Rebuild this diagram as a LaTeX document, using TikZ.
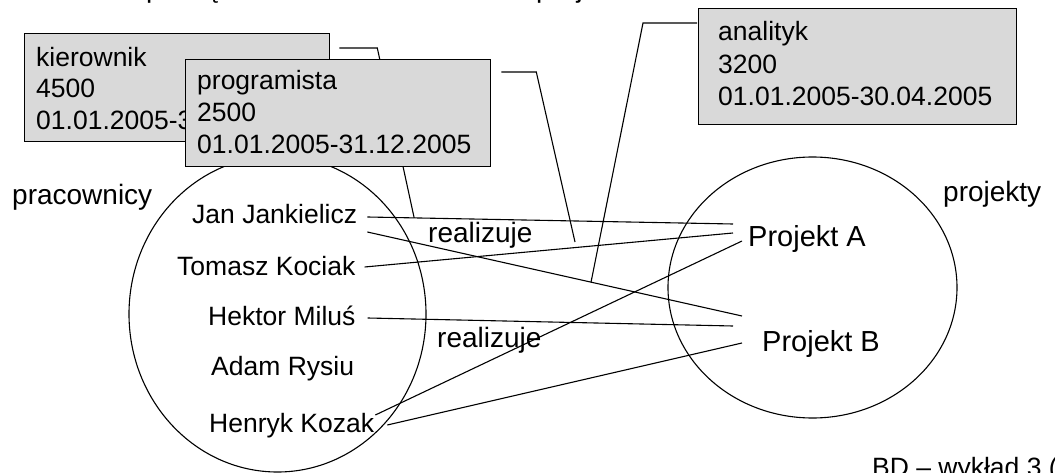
\documentclass[tikz,border=0pt]{standalone}
\usepackage{fontspec}
\setmainfont{Liberation Sans}
\usetikzlibrary{calc,shapes.geometric}
\definecolor{boxgray}{RGB}{217,217,217}
\tikzset{
  infobox/.style={draw=black, line width=1.3pt, fill=boxgray, anchor=north west, inner sep=0pt, rectangle},
  txt/.style={anchor=base west, inner sep=0pt, font=\fontsize{26.5}{31}\selectfont},
  big/.style={anchor=base west, inner sep=0pt, font=\fontsize{29}{34}\selectfont},
  lbl/.style={anchor=base west, inner sep=0pt, font=\fontsize{28}{33}\selectfont},
  conn/.style={draw=black, line width=1.1pt},
  setshape/.style={draw=black, line width=1.1pt, ellipse, inner sep=0pt},
}
\begin{document}
\begin{tikzpicture}[x=1pt,y=-1pt]
\useasboundingbox (0,0) rectangle (1055,473);
% cut-off title (only descenders visible)
\node[lbl] (titleL) at (146,-2) {pamięci};
\node[lbl] (titleR) at (536,-2) {projektami};
% sets
\node[setshape, minimum width=297pt, minimum height=316pt] (prac) at (277.5,314) {};
\node[setshape, minimum width=289pt, minimum height=261pt] (proj) at (812.5,287.5) {};
\node[lbl] (pracLbl) at (12,205) {pracownicy};
\node[lbl] (projLbl) at (943,202) {projekty};
% names
\node[txt] (jan) at (192,224) {Jan Jankielicz};
\node[txt] (tom) at (177,275) {Tomasz Kociak};
\node[txt] (hek) at (208,325) {Hektor Miluś};
\node[txt] (ada) at (211,375) {Adam Rysiu};
\node[txt] (hen) at (209,432) {Henryk Kozak};
\node[big] (pa) at (748,247) {Projekt A};
\node[big] (pb) at (762,351) {Projekt B};
\node[lbl] (rel1) at (428,243) {realizuje};
\node[lbl] (rel2) at (437,347) {realizuje};
\node[txt] (bd) at (872,476) {BD – wykład 3 (};
% connectors
\draw[conn] ($(jan.base east)+(10,-7)$) coordinate (janA) -- ($(pa.base west)+(-15,-23)$) coordinate (paJ);
\draw[conn] ($(jan.base east)+(10,8)$) coordinate (janB) -- ($(pb.base west)+(-20,-35)$) coordinate (pbJ);
\draw[conn] ($(tom.base east)+(9,-8)$) -- ($(pa.base west)+(-15,-14)$);
\draw[conn] ($(hek.base east)+(12,-7)$) -- ($(pb.base west)+(-29,-25)$);
\draw[conn] ($(hen.base east)+(1,-17)$) -- ($(pa.base west)+(-6,-6)$);
\draw[conn] ($(hen.base east)+(13,-7)$) -- ($(pb.base west)+(-20,-8)$);
% kierownik box and its callout
\node[infobox, minimum width=305pt, minimum height=108pt] (kbox) at (24,33) {};
\node[txt] (k1) at ($(kbox.north west)+(12,34)$) {kierownik};
\node[txt] (k2) at ($(kbox.north west)+(12,65)$) {4500};
\node[txt] (k3) at ($(kbox.north west)+(12,97)$) {01.01.2005-31.12.2005};
\coordinate (kEnd) at ($(janA)!0.128!(paJ)$);
\draw[conn] ($(kbox.north east)+(9,15)$) -- ++(38,0) -- (kEnd);
% programista box
\node[infobox, minimum width=305pt, minimum height=107pt] (pbox) at (185,59) {};
\node[txt] (p1) at ($(pbox.north west)+(12,31)$) {programista};
\node[txt] (p2) at ($(pbox.north west)+(12,63)$) {2500};
\node[txt] (p3) at ($(pbox.north west)+(12,95)$) {01.01.2005-31.12.2005};
\coordinate (pEnd) at (575,242);
\draw[conn] ($(pbox.north east)+(10,13)$) -- ++(35,0) -- (pEnd);
% analityk box
\node[infobox, minimum width=318pt, minimum height=116pt] (abox) at (698,8) {};
\node[txt] (a1) at ($(abox.north west)+(20,33)$) {analityk};
\node[txt] (a2) at ($(abox.north west)+(20,66)$) {3200};
\node[txt] (a3) at ($(abox.north west)+(20,98)$) {01.01.2005-30.04.2005};
\coordinate (aEnd) at ($(janB)!0.597!(pbJ)$);
\draw[conn] ($(abox.north west)+(-1,15)$) -- ++(-54,0) -- (aEnd);
\end{tikzpicture}
\end{document}
